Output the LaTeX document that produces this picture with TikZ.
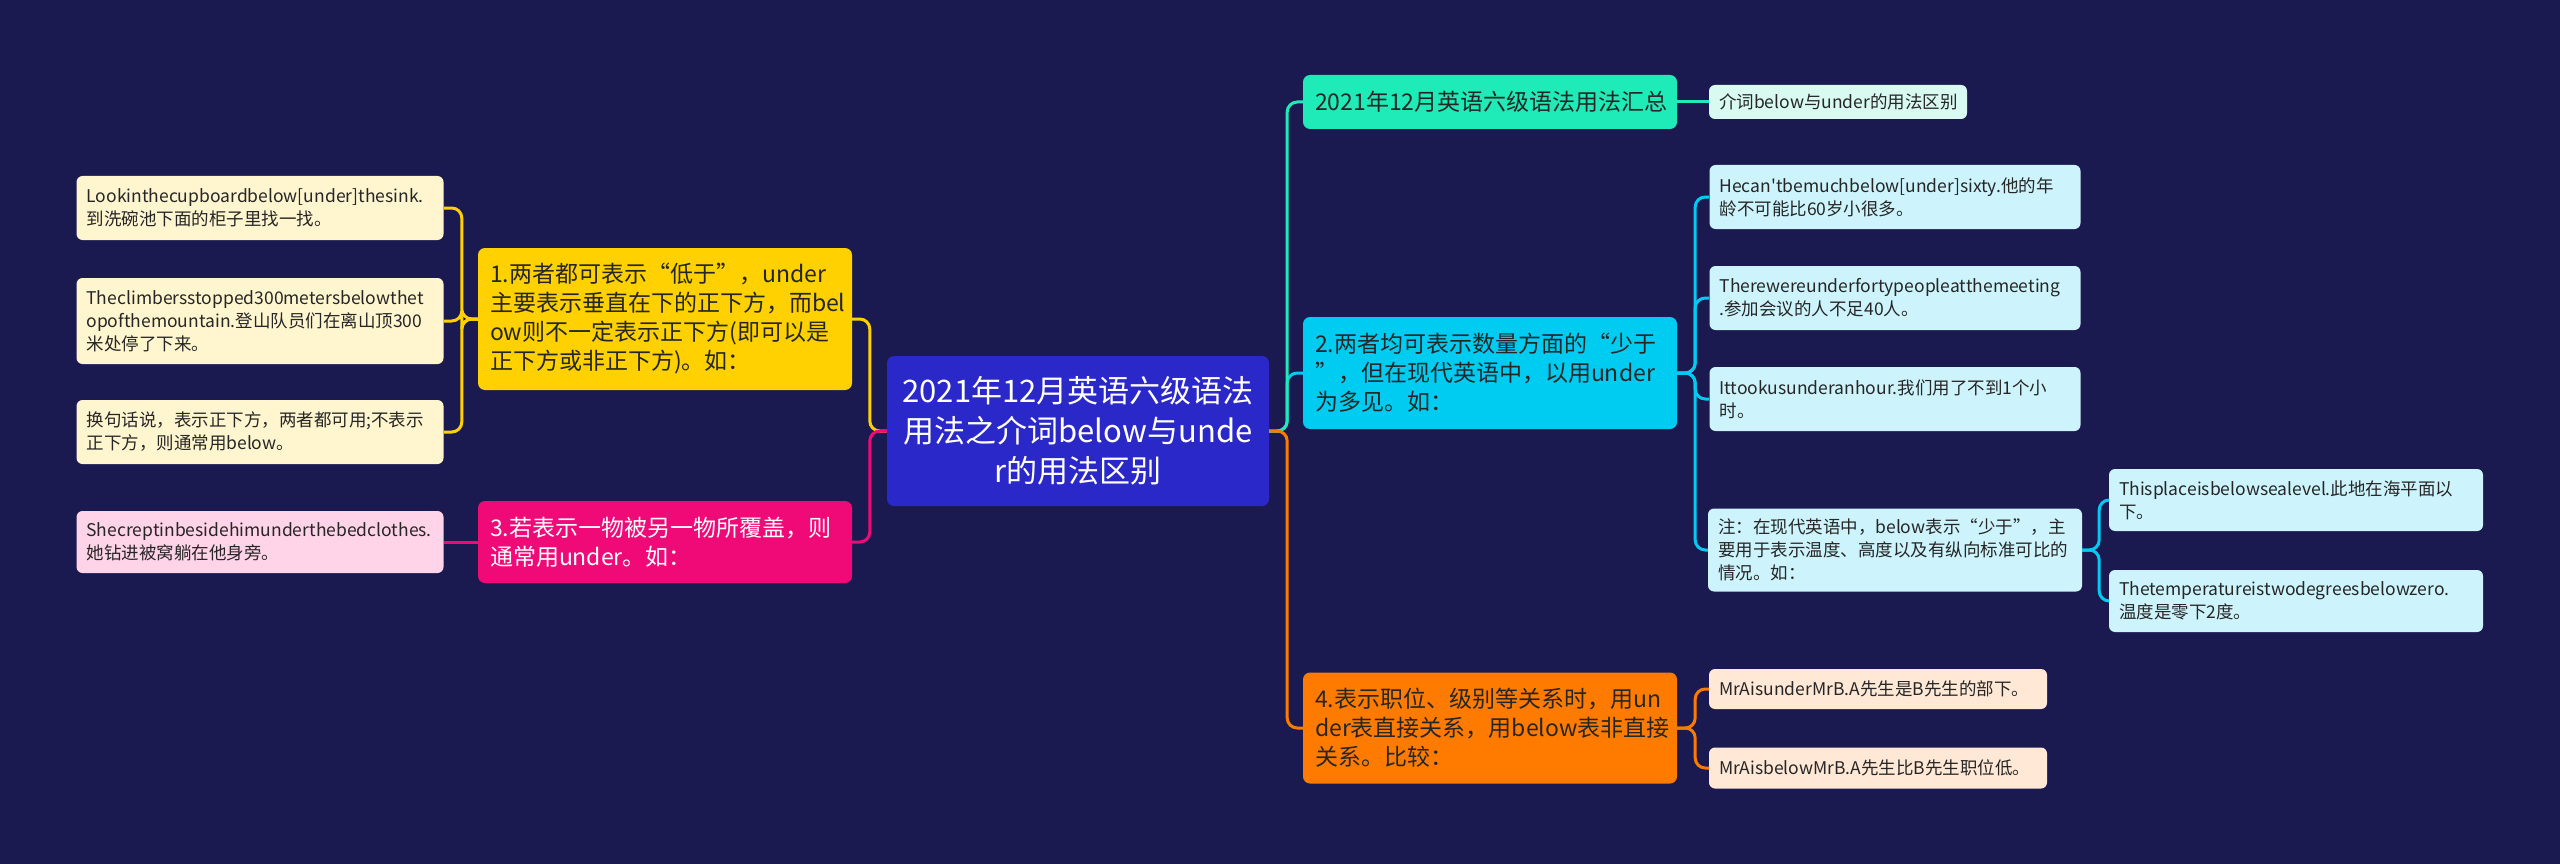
\documentclass[tikz,border=0pt]{standalone}
\usepackage{fontspec}
\setmainfont{Noto Sans CJK SC}
\newfontfamily\plainfont{Noto Sans CJK SC}[Ligatures=TeXOff]
\usetikzlibrary{calc, positioning}

\definecolor{bg}{HTML}{1B1A50}
\definecolor{rootblue}{HTML}{2A28C8}
\definecolor{ygold}{HTML}{FFD100}
\definecolor{ycream}{HTML}{FFF5CF}
\definecolor{pkdeep}{HTML}{F00A78}
\definecolor{pklight}{HTML}{FFD3E8}
\definecolor{tlgreen}{HTML}{1EEBB8}
\definecolor{tllight}{HTML}{D8FAF0}
\definecolor{cyblue}{HTML}{00CCF2}
\definecolor{cylight}{HTML}{CDF4FC}
\definecolor{ororange}{HTML}{FF7B00}
\definecolor{orlight}{HTML}{FFE8D5}
\definecolor{darktext}{HTML}{262626}

\tikzset{
  root/.style={fill=rootblue, text=white, rounded corners=7pt, align=center,
    text width=360pt, inner xsep=11pt, inner ysep=0pt, minimum height=150pt,
    font=\fontsize{31}{40}\selectfont},
  topic/.style={rounded corners=7pt, align=left, text width=350pt,
    inner xsep=12pt, inner ysep=0pt, font=\fontsize{23}{29}\selectfont},
  leaf/.style={rounded corners=6pt, align=left, inner xsep=10pt, inner ysep=0pt,
    text=darktext, font=\fontsize{17.5}{23}\selectfont},
  link/.style={line width=3pt, rounded corners=10pt},
}

\begin{document}
\begin{tikzpicture}[x=1pt, y=-1pt]
% Background
\fill[bg] (0,0) rectangle (2560,864);

% Central topic
\node[root] (root) at (1078,431) {2021年12月英语六级语法\\用法之介词below与unde\\r的用法区别};

% Left branches
\node[topic, fill=ygold, text=darktext, minimum height=142pt] (t1) at (665,319)
  {1.两者都可表示“低于”，under\\主要表示垂直在下的正下方，而bel\\ow则不一定表示正下方(即可以是\\正下方或非正下方)。如：};
\node[topic, fill=pkdeep, text=white, minimum height=82pt] (t3) at (665,542)
  {3.若表示一物被另一物所覆盖，则\\通常用under。如：};

\node[leaf, fill=ycream, text width=347pt, minimum height=64pt] (l1) at (260,208)
  {Lookinthecupboardbelow[under]thesink.\\到洗碗池下面的柜子里找一找。};
\node[leaf, fill=ycream, text width=347pt, minimum height=86pt] (l2) at (260,321)
  {Theclimbersstopped300metersbelowthet\\opofthemountain.登山队员们在离山顶300\\米处停了下来。};
\node[leaf, fill=ycream, text width=347pt, minimum height=64pt] (l3) at (260,432)
  {换句话说，表示正下方，两者都可用;不表示\\正下方，则通常用below。};
\node[leaf, fill=pklight, text width=347pt, minimum height=62pt] (l4) at (260,542)
  {Shecreptinbesidehimunderthebedclothes.\\她钻进被窝躺在他身旁。};

% Right branches
\node[topic, fill=tlgreen, text=darktext, minimum height=54pt] (t0) at (1490,102)
  {2021年12月英语六级语法用法汇总};
\node[topic, fill=cyblue, text=darktext, minimum height=112pt] (t2) at (1490,373)
  {2.两者均可表示数量方面的“少于\\”，但在现代英语中，以用under\\为多见。如：};
\node[topic, fill=ororange, text=darktext, minimum height=111pt] (t4) at (1490,728)
  {4.表示职位、级别等关系时，用un\\der表直接关系，用below表非直接\\关系。比较：};

\node[leaf, fill=tllight, text width=238pt, minimum height=34pt] (r0) at (1838,102)
  {介词below与under的用法区别};

\node[leaf, fill=cylight, text width=351pt, minimum height=64pt] (r1) at (1895,197)
  {Hecan{\plainfont'}tbemuchbelow[under]sixty.他的年\\龄不可能比60岁小很多。};
\node[leaf, fill=cylight, text width=351pt, minimum height=64pt] (r2) at (1895,298)
  {Therewereunderfortypeopleatthemeeting\\.参加会议的人不足40人。};
\node[leaf, fill=cylight, text width=351pt, minimum height=64pt] (r3) at (1895,399)
  {Ittookusunderanhour.我们用了不到1个小\\时。};
\node[leaf, fill=cylight, text width=354pt, minimum height=83pt] (note) at (1895,550)
  {注：在现代英语中，below表示“少于”，主\\要用于表示温度、高度以及有纵向标准可比的\\情况。如：};

\node[leaf, fill=cylight, text width=354pt, minimum height=62pt] (n1) at (2296,500)
  {Thisplaceisbelowsealevel.此地在海平面以\\下。};
\node[leaf, fill=cylight, text width=354pt, minimum height=62pt] (n2) at (2296,601)
  {Thetemperatureistwodegreesbelowzero.\\温度是零下2度。};

\node[leaf, fill=orlight, text width=318pt, minimum height=40pt] (o1) at (1878,689)
  {MrAisunderMrB.A先生是B先生的部下。};
\node[leaf, fill=orlight, text width=318pt, minimum height=41pt] (o2) at (1878,768)
  {MrAisbelowMrB.A先生比B先生职位低。};

% Links on the left
\draw[link, ygold] (root.west) -- ++(-17,0) |- (t1.east);
\draw[link, pkdeep] (root.west) -- ++(-17,0) |- (t3.east);
\foreach \n in {l1,l2,l3}
  \draw[link, ygold] (t1.west) -- ++(-16,0) |- (\n.east);
\draw[link, pkdeep] (t3.west) -- (l4.east);

% Links on the right
\draw[link, cyblue] (root.east) -- ++(18,0) |- (t2.west);
\draw[link, tlgreen] (root.east) -- ++(18,0) |- (t0.west);
\draw[link, ororange] (root.east) -- ++(18,0) |- (t4.west);
\draw[link, tlgreen] (t0.east) -- (r0.west);
\foreach \n in {r1,r2,r3,note}
  \draw[link, cyblue] (t2.east) -- ++(18,0) |- (\n.west);
\foreach \n in {n1,n2}
  \draw[link, cyblue] (note.east) -- ++(17,0) |- (\n.west);
\foreach \n in {o1,o2}
  \draw[link, ororange] (t4.east) -- ++(18,0) |- (\n.west);
\end{tikzpicture}
\end{document}
